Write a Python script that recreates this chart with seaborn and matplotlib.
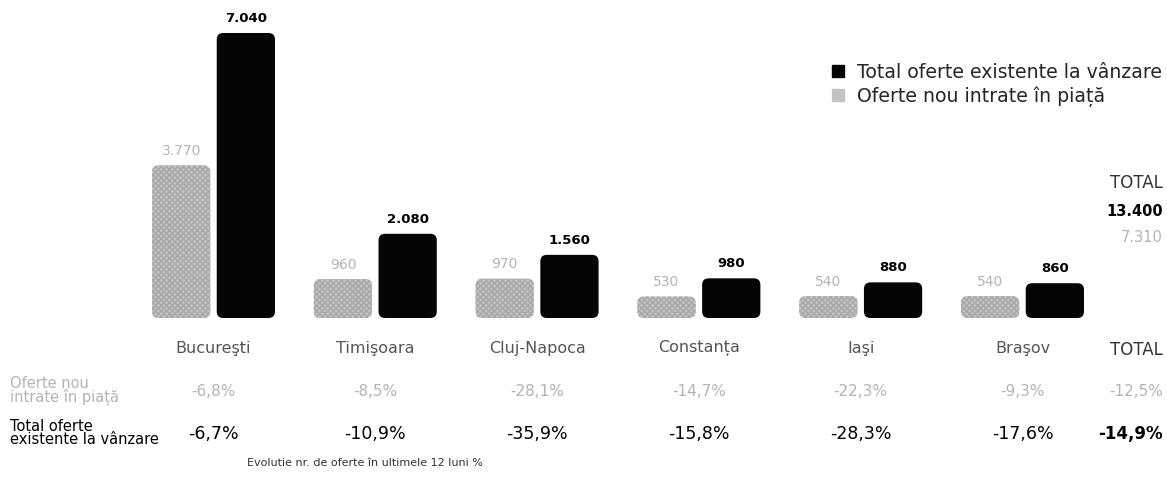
import matplotlib
matplotlib.use("Agg")
import matplotlib.pyplot as plt
import matplotlib.transforms as mtransforms
from matplotlib.patches import FancyBboxPatch
from matplotlib.lines import Line2D
import pandas as pd
import seaborn as sns

# data
CITIES = ["Bucureşti", "Timişoara", "Cluj-Napoca", "Constanța", "Iaşi", "Braşov"]
NEW_OFFERS = [3770, 960, 970, 530, 540, 540]
TOTAL_OFFERS = [7040, 2080, 1560, 980, 880, 860]
NEW_LABELS = ["3.770", "960", "970", "530", "540", "540"]
TOTAL_LABELS = ["7.040", "2.080", "1.560", "980", "880", "860"]
NEW_CHANGE = ["-6,8%", "-8,5%", "-28,1%", "-14,7%", "-22,3%", "-9,3%"]
TOTAL_CHANGE = ["-6,7%", "-10,9%", "-35,9%", "-15,8%", "-28,3%", "-17,6%"]
GRAND_TOTAL = "13.400"
GRAND_NEW = "7.310"
GRAND_NEW_CHANGE = "-12,5%"
GRAND_TOTAL_CHANGE = "-14,9%"

SERIES_NEW = "Oferte nou intrate în piață"
SERIES_TOTAL = "Total oferte existente la vânzare"

GREY = "#c2c2c2"
BLACK = "#050505"
LIGHT_TEXT = "#b4b4b4"

sns.set_style("white")
plt.rcParams["font.family"] = ["DejaVu Sans"]

df = pd.DataFrame({
    "city": CITIES * 2,
    "series": [SERIES_NEW] * len(CITIES) + [SERIES_TOTAL] * len(CITIES),
    "value": NEW_OFFERS + TOTAL_OFFERS,
})

W, H = 1167, 479
fig = plt.figure(figsize=(W / 100, H / 100), dpi=100)
base_frac = (H - 318) / H
ax = fig.add_axes([0, base_frac, 1, 1 - base_frac])

sns.barplot(
    data=df, x="city", y="value", hue="series",
    hue_order=[SERIES_NEW, SERIES_TOTAL],
    palette=[GREY, BLACK], width=0.8, gap=0.1,
    legend=False, ax=ax, saturation=1,
)

px_per_unit = 161.8
xmin = -213.5 / px_per_unit
ax.set_xlim(xmin, xmin + W / px_per_unit)
ymax = 7040 * 318 / 285
ax.set_ylim(0, ymax)
ax.axis("off")

# rounded bars
aspect = (ymax / 318) * px_per_unit
for cont, color, hatch in zip(ax.containers, [GREY, BLACK], ["xxxxxx", None]):
    for bar in cont:
        x, y = bar.get_x(), bar.get_y()
        w, h = bar.get_width(), bar.get_height()
        bar.remove()
        patch = FancyBboxPatch(
            (x, y), w, h,
            boxstyle="round,pad=0,rounding_size=0.04",
            mutation_aspect=aspect,
            facecolor=color, edgecolor="#a8a8a8" if hatch else color,
            linewidth=0, hatch=hatch,
        )
        ax.add_patch(patch)

# value labels
offset = 0.2
for i in range(len(CITIES)):
    ax.text(i - offset, NEW_OFFERS[i] + 180, NEW_LABELS[i], ha="center",
            va="bottom", fontsize=10, color=LIGHT_TEXT)
    ax.text(i + offset, TOTAL_OFFERS[i] + 200, TOTAL_LABELS[i], ha="center",
            va="bottom", fontsize=9.5, color="black", fontweight="bold")

blend = mtransforms.blended_transform_factory(ax.transData, fig.transFigure)


def fy(py):
    return 1 - py / H


for i, city in enumerate(CITIES):
    fig.text(i, fy(348), city, transform=blend, ha="center", va="center",
             fontsize=11.5, color="#555555")
    fig.text(i, fy(392), NEW_CHANGE[i], transform=blend, ha="center",
             va="center", fontsize=11, color=LIGHT_TEXT)
    fig.text(i, fy(434), TOTAL_CHANGE[i], transform=blend, ha="center",
             va="center", fontsize=12.5, color="black")

# right-hand totals
RX = 1163 / W
fig.text(RX, fy(183), "TOTAL", ha="right", va="center", fontsize=12,
         color="#333333")
fig.text(RX, fy(212), GRAND_TOTAL, ha="right", va="center", fontsize=10.5,
         color="black", fontweight="bold")
fig.text(RX, fy(238), GRAND_NEW, ha="right", va="center", fontsize=10.5,
         color=LIGHT_TEXT)
fig.text(RX, fy(350), "TOTAL", ha="right", va="center", fontsize=12,
         color="#333333")
fig.text(RX, fy(392), GRAND_NEW_CHANGE, ha="right", va="center", fontsize=11,
         color=LIGHT_TEXT)
fig.text(RX, fy(434), GRAND_TOTAL_CHANGE, ha="right", va="center",
         fontsize=12, color="black", fontweight="bold")

# row labels
fig.text(10 / W, fy(391), "Oferte nou\nintrate în piață", ha="left",
         va="center", fontsize=10.5, color=LIGHT_TEXT, linespacing=0.9)
fig.text(10 / W, fy(433), "Total oferte\nexistente la vânzare", ha="left",
         va="center", fontsize=10.5, color="black", linespacing=0.85)

fig.text(365 / W, fy(463), "Evolutie nr. de oferte în ultimele 12 luni %",
         ha="center", va="center", fontsize=8, color="#333333")

# legend
handles = [
    Line2D([], [], marker="s", linestyle="none", markersize=8.6,
           color=BLACK, label=SERIES_TOTAL),
    Line2D([], [], marker="s", linestyle="none", markersize=8.6,
           color=GREY, label=SERIES_NEW),
]
fig.legend(handles=handles, loc="upper left",
           bbox_to_anchor=(828.5 / W, fy(63)), frameon=False, fontsize=13.6,
           handletextpad=0.5, handlelength=1.0, labelspacing=0.24,
           borderaxespad=0, borderpad=0)

fig.savefig("out.png", dpi=100)
